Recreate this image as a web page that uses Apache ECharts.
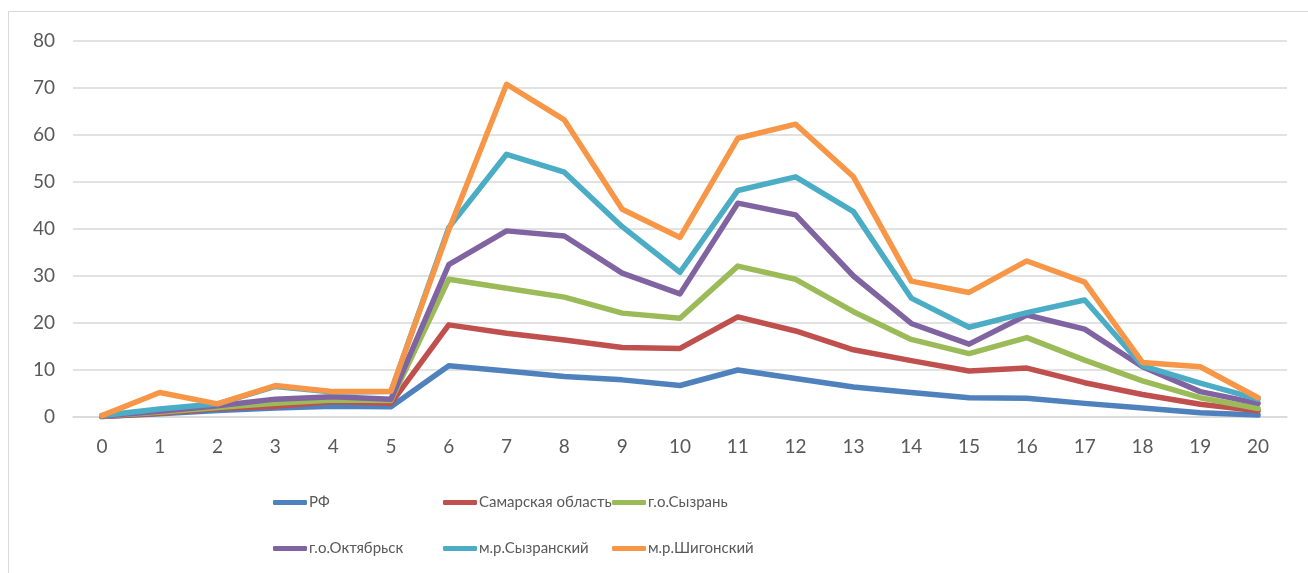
<!DOCTYPE html>
<html>
<head>
<meta charset="utf-8">
<script src="https://cdn.jsdelivr.net/npm/echarts@6/dist/echarts.min.js"></script>
<style>
  html, body { margin: 0; padding: 0; background: #ffffff; }
  #chart { width: 1308px; height: 573px; }
</style>
</head>
<body>
<div id="chart"></div>
<script>
  // x categories 0..20
  const categories = ['0','1','2','3','4','5','6','7','8','9','10','11','12','13','14','15','16','17','18','19','20'];

  const names = ['РФ', 'Самарская область', 'г.о.Сызрань', 'г.о.Октябрьск', 'м.р.Сызранский', 'м.р.Шигонский'];

  const rf        = [0.1, 0.7, 1.4, 1.9, 2.3, 2.2, 10.9, 9.8, 8.6, 7.9, 6.7, 10.0, 8.2, 6.4, 5.2, 4.1, 4.0, 2.9, 1.9, 0.9, 0.4];
  const samara    = [0.1, 0.8, 1.8, 2.3, 3.3, 2.9, 19.6, 17.8, 16.4, 14.8, 14.6, 21.3, 18.3, 14.3, 12.0, 9.8, 10.4, 7.3, 4.8, 2.7, 1.3];
  const syzran    = [0.2, 1.0, 2.0, 2.9, 3.6, 3.5, 29.3, 27.4, 25.5, 22.1, 21.0, 32.1, 29.3, 22.4, 16.5, 13.5, 16.9, 12.1, 7.7, 4.1, 1.8];
  const oktyabrsk = [0.2, 1.2, 2.4, 3.8, 4.3, 3.8, 32.4, 39.6, 38.5, 30.6, 26.2, 45.5, 43.0, 30.0, 19.9, 15.5, 21.7, 18.7, 10.7, 5.4, 2.9];
  const syzrMr    = [0.3, 1.7, 2.8, 6.5, 5.3, 5.4, 40.3, 55.9, 52.1, 40.5, 30.8, 48.2, 51.1, 43.7, 25.3, 19.1, 22.2, 24.9, 10.9, 7.2, 3.8];
  const shigony   = [0.3, 5.2, 2.8, 6.7, 5.4, 5.5, 39.8, 70.8, 63.2, 44.2, 38.2, 59.3, 62.3, 51.1, 28.9, 26.5, 33.2, 28.7, 11.6, 10.7, 4.1];

  const values = [rf, samara, syzran, oktyabrsk, syzrMr, shigony];
  const colors = ['#4F81BD', '#C0504D', '#9BBB59', '#8064A2', '#4BACC6', '#F79646'];

  const font = 'Lato, "Open Sans", sans-serif';
  const legendLeft = [273, 443, 612];
  const legendTop = [495, 541];

  const chart = echarts.init(document.getElementById('chart'));
  chart.setOption({
    backgroundColor: '#ffffff',
    animation: false,
    color: colors,
    graphic: [{
      type: 'rect',
      shape: { x: 8.5, y: 11.5, width: 1400, height: 700 },
      style: { fill: 'none', stroke: '#d9d9d9', lineWidth: 1 },
      silent: true
    }],
    grid: {
      left: 73,
      right: 21,
      top: 41,
      bottom: 156
    },
    legend: names.map((n, i) => ({
      data: [n],
      left: legendLeft[i % 3],
      top: legendTop[Math.floor(i / 3)],
      padding: 0,
      icon: 'roundRect',
      itemWidth: 34,
      itemHeight: 5,
      selectedMode: false,
      textStyle: { fontFamily: font, fontSize: 15, color: '#595959', padding: [0, 0, 0, -3] }
    })),
    xAxis: {
      type: 'category',
      data: categories,
      boundaryGap: true,
      axisLine: { show: true, lineStyle: { color: '#d9d9d9', width: 1.5 } },
      axisTick: { show: false },
      axisLabel: { fontFamily: font, fontSize: 19, color: '#595959', margin: 20 }
    },
    yAxis: {
      type: 'value',
      min: 0,
      max: 80,
      interval: 10,
      axisLine: { show: false },
      axisTick: { show: false },
      axisLabel: { fontFamily: font, fontSize: 19, color: '#595959', margin: 18 },
      splitLine: { lineStyle: { color: '#d9d9d9', width: 1.5 } }
    },
    series: names.map((n, i) => ({
      name: n,
      type: 'line',
      data: values[i],
      showSymbol: false,
      symbol: 'none',
      lineStyle: { width: 5.5, color: colors[i], join: 'round', cap: 'round' },
      itemStyle: { color: colors[i] }
    }))
  });
</script>
</body>
</html>
